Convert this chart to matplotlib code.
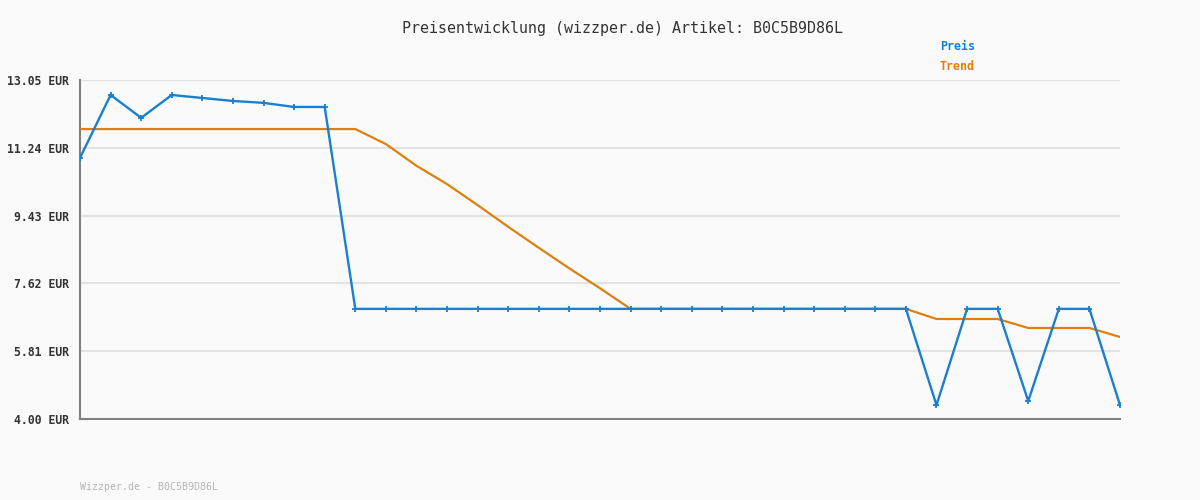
import matplotlib

matplotlib.use("Agg")
import matplotlib.pyplot as plt

# values (EUR)
preis = [
    10.97, 12.65, 12.04, 12.65, 12.57, 12.49, 12.44, 12.33, 12.33,
    6.94, 6.94, 6.94, 6.94, 6.94, 6.94, 6.94, 6.94, 6.94, 6.94,
    6.94, 6.94, 6.94, 6.94, 6.94, 6.94, 6.94, 6.94, 6.94,
    4.37, 6.94, 6.94, 4.48, 6.94, 6.94, 4.37,
]
trend = [
    11.74, 11.74, 11.74, 11.74, 11.74, 11.74, 11.74, 11.74, 11.74, 11.74,
    11.34, 10.76, 10.27, 9.71, 9.13, 8.57, 8.02, 7.49,
    6.94, 6.94, 6.94, 6.94, 6.94, 6.94, 6.94, 6.94, 6.94, 6.94,
    6.67, 6.67, 6.67, 6.43, 6.43, 6.43, 6.19,
]
y_ticks = [4.00, 5.81, 7.62, 9.43, 11.24, 13.05]
title = "Preisentwicklung (wizzper.de) Artikel: B0C5B9D86L"
footer = "Wizzper.de - B0C5B9D86L"

BG = "#fafafa"
BLUE = "#1a7fcf"
ORANGE = "#e07f0f"
MONO = "DejaVu Sans Mono"

fig = plt.figure(figsize=(12, 5), dpi=100, facecolor=BG)
ax = fig.add_axes([80 / 1200, 81 / 500, 1040 / 1200, 339 / 500])
ax.set_facecolor(BG)

x = list(range(len(preis)))
ax.plot(x, trend, color=ORANGE, linewidth=1.6, zorder=3)
ax.plot(x, preis, color=BLUE, linewidth=1.7, marker="+", markersize=4,
        markeredgewidth=1.3, zorder=4)

ax.set_xlim(0, len(preis) - 1)
ax.set_ylim(y_ticks[0], y_ticks[-1])
ax.set_yticks(y_ticks)
ax.set_yticklabels([f"{v:.2f} EUR" for v in y_ticks], family=MONO,
                   fontsize=8.3, fontweight="bold", color="#333333")
ax.set_xticks([])
ax.tick_params(axis="y", length=0, pad=8)
ax.grid(axis="y", color="#e3e3e3", linewidth=1.5, zorder=0)

for side in ("top", "right"):
    ax.spines[side].set_visible(False)
for side in ("left", "bottom"):
    ax.spines[side].set_color("#808080")
    ax.spines[side].set_linewidth(1.5)

fig.text(623 / 1200, 1 - 28 / 500, title, family=MONO, fontsize=10.8,
         color="#333333", ha="center", va="center")
fig.text(940 / 1200, 1 - 46 / 500, "Preis", family=MONO, fontsize=8.4,
         fontweight="bold", color=BLUE, ha="left", va="center")
fig.text(940 / 1200, 1 - 67 / 500, "Trend", family=MONO, fontsize=8.4,
         fontweight="bold", color=ORANGE, ha="left", va="center")
fig.text(80 / 1200, 1 - 487 / 500, footer, family=MONO, fontsize=7.1,
         color="#b5b5b5", ha="left", va="center")

fig.savefig("out.png", dpi=100, facecolor=BG)
